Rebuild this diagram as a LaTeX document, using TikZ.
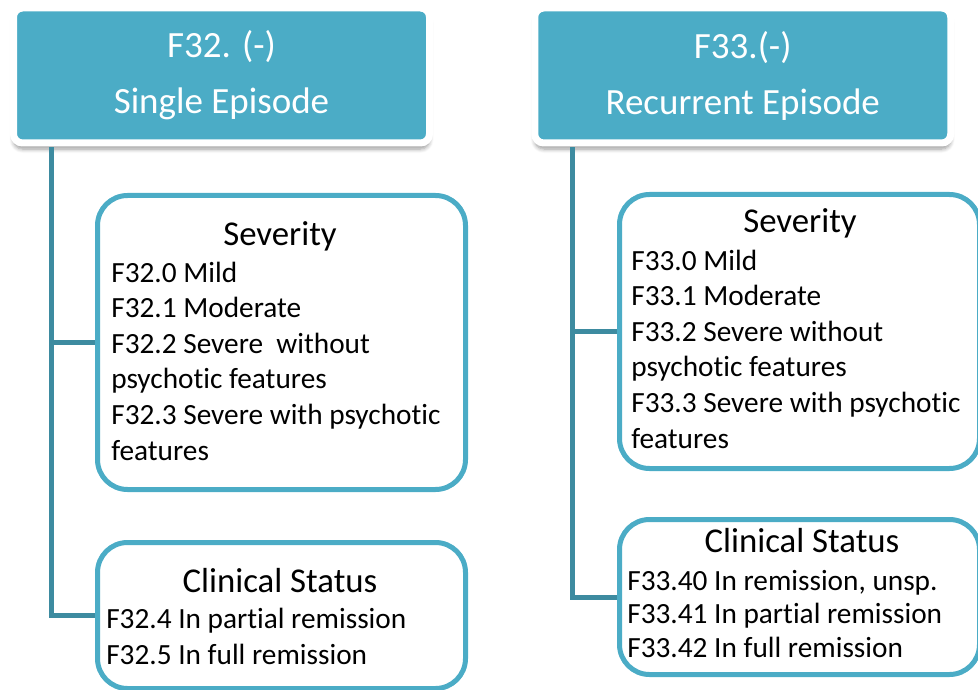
\documentclass[tikz,border=0pt]{standalone}
\usepackage{fontspec}
\setmainfont{Carlito}[Ligatures={NoCommon}]
\usepackage{tikz}
\usepackage{xcolor}
\usetikzlibrary{positioning,calc,shadows.blur}

\definecolor{tealfill}{RGB}{75,172,198}
\definecolor{trunk}{RGB}{61,139,160}

\begin{document}
\begin{tikzpicture}[x=1pt, y=-1pt, semithick]

    \tikzstyle{header}=[fill=tealfill,draw=white,line width=7pt,rounded corners=9pt,minimum width=416pt,minimum height=135pt,text=white,align=center,font=\fontsize{37}{56}\selectfont,blur shadow={shadow xshift=0pt,shadow yshift=-6pt,shadow blur steps=6,shadow blur radius=4pt,shadow opacity=40}]
    \tikzstyle{panel}=[draw=tealfill,line width=5pt,rounded corners=30pt,fill=white,anchor=north west]
    \tikzstyle{subhead}=[anchor=base,inner sep=0pt,font=\fontsize{34.8}{40}\selectfont]
    \tikzstyle{items}=[anchor=base west,inner sep=0pt,align=left,font=\fontsize{29.3}{35.6}\selectfont]
    \tikzstyle{branch}=[draw=trunk,line width=5pt]

    \useasboundingbox (0,0) rectangle (978,690);

    % the two episode types
    \node[header] (hdrL) at (221.5,75.5) {F32. (-)\\Single Episode};
    \node[header] (hdrR) at (742.75,75.5) {F33.(-)\\Recurrent Episode};

    % boxes under each type
    \node[panel, minimum width=368pt, minimum height=294pt] (sevL)  at (95,193)  {};
    \node[panel, minimum width=368pt, minimum height=146pt] (clinL) at (95,540)  {};
    \node[panel, minimum width=360pt, minimum height=274pt] (sevR)  at (617,192) {};
    \node[panel, minimum width=360pt, minimum height=155pt] (clinR) at (617,517) {};

    % tree lines
    \coordinate (trkL) at ([xshift=41.5pt,yshift=-1pt]hdrL.south west);
    \coordinate (trkR) at ([xshift=41.5pt,yshift=-1pt]hdrR.south west);
    \draw[branch] (trkL) |- (clinL.west);
    \draw[branch] (trkL |- sevL.west) -- (sevL.west);
    \draw[branch] (trkR) |- (clinR.west);
    \draw[branch] (trkR |- sevR.west) -- (sevR.west);

    % texts (items sit on their last line)
    \node[subhead] (sevLt)  at (280,245) {Severity};
    \node[items]   (sevLi)  at (111,460) {F32.0 Mild\\F32.1 Moderate\\F32.2 Severe\ \ without\\psychotic features\\F32.3 Severe with psychotic\\features};
    \node[subhead] (clinLt) at (280,592) {Clinical Status};
    \node[items]   (clinLi) at (106,664) {F32.4 In partial remission\\F32.5 In full remission};

    \node[subhead] (sevRt)  at (800,233) {Severity};
    \node[items]   (sevRi)  at (631,448) {F33.0 Mild\\F33.1 Moderate\\F33.2 Severe without\\psychotic features\\F33.3 Severe with psychotic\\features};
    \node[subhead] (clinRt) at (802,552) {Clinical Status};
    \node[items, font=\fontsize{29.3}{33.5}\selectfont] (clinRi) at (627,657) {F33.40 In remission, unsp.\\F33.41 In partial remission\\F33.42 In full remission};
\end{tikzpicture}
\end{document}
